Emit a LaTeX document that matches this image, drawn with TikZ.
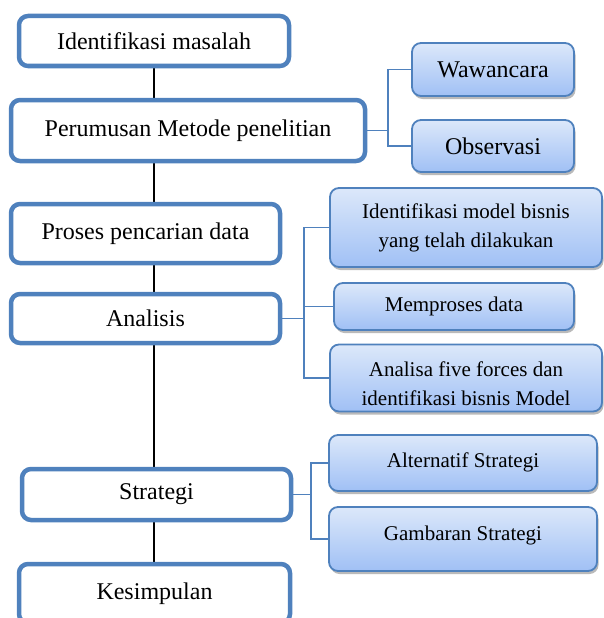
\documentclass[tikz,border=0pt]{standalone}
\usepackage{fontspec}
\setmainfont{Liberation Serif}
\usetikzlibrary{shadows,backgrounds}
\definecolor{obl}{RGB}{79,129,189}
\definecolor{gtop}{RGB}{220,232,250}
\definecolor{gbot}{RGB}{160,192,245}
\tikzset{
 lbox/.style={draw=obl, line width=4.5pt, rounded corners=9pt, fill=white, inner sep=0pt,
   font=\fontsize{24}{28}\selectfont, align=center},
 rbox/.style={draw=obl, line width=1.8pt, rounded corners=9pt, top color=gtop, bottom color=gbot,
   inner sep=0pt, align=center, font=\fontsize{21}{29}\selectfont,
   drop shadow={shadow xshift=1.5pt, shadow yshift=-3pt, fill=black!45, opacity=0.6}},
 conn/.style={draw=obl, line width=1.5pt},
 trunk/.style={draw=black, line width=1.6pt}
}
\begin{document}
\begin{tikzpicture}[x=1pt,y=-1pt]
\useasboundingbox (0,0) rectangle (604,618);
% left column
\node[lbox, minimum width=270pt, minimum height=50pt] (idm) at (154,41) {Identifikasi masalah};
\node[lbox, minimum width=354pt, minimum height=61pt] (perum) at (188,130.5) {Perumusan Metode penelitian};
\node[lbox, minimum width=269pt, minimum height=59pt] (proses) at (145.5,233.5) {Proses pencarian data};
\node[lbox, minimum width=269pt, minimum height=49pt] (anal) at (145.5,318.5) {Analisis};
\node[lbox, minimum width=269pt, minimum height=51pt] (strat) at (156.5,494.5) {Strategi};
\node[lbox, minimum width=271pt, minimum height=59pt] (kes) at (154.5,593.5) {Kesimpulan};
% right column
\node[rbox, minimum width=162pt, minimum height=53pt, font=\fontsize{24}{28}\selectfont] (waw) at (493,69.5) {Wawancara};
\node[rbox, minimum width=162pt, minimum height=52pt, font=\fontsize{24}{28}\selectfont] (obs) at (493,146) {Observasi};
\node[rbox, minimum width=272pt, minimum height=79pt] (idmb) at (466,227.5) {Identifikasi model bisnis\\yang telah dilakukan};
\node[rbox, minimum width=240pt, minimum height=47pt] (memp) at (454,306.5) {Memproses data};
\node[rbox, minimum width=272pt, minimum height=67pt] (ana5) at (466,378) {\raisebox{-6pt}[\height][\depth]{\parbox{272pt}{\centering Analisa five forces dan\\identifikasi bisnis Model}}};
\node[rbox, minimum width=268pt, minimum height=56pt] (alt) at (463,463) {\raisebox{1pt}[\height][\depth]{Alternatif Strategi}};
\node[rbox, minimum width=268pt, minimum height=64pt] (gamb) at (463,539) {\raisebox{4pt}[\height][\depth]{Gambaran Strategi}};
% junctions
\coordinate (j1) at (388,130.5);
\coordinate (j2) at (304,318.5);
\coordinate (j3) at (311,494.5);
\begin{scope}[on background layer]
\draw[trunk] (idm.south) -- (idm.south |- kes.north);
\end{scope}
\draw[conn] (perum.east) -- (j1);
\draw[conn] (j1) |- (waw.west);
\draw[conn] (j1) |- (obs.west);
\draw[conn] (anal.east) -- (j2);
\draw[conn] (j2) |- (idmb.west);
\draw[conn] (j2) |- (memp.west);
\draw[conn] (j2) |- (ana5.west);
\draw[conn] (strat.east) -- (j3);
\draw[conn] (j3) |- (alt.west);
\draw[conn] (j3) |- (gamb.west);
\end{tikzpicture}
\end{document}
